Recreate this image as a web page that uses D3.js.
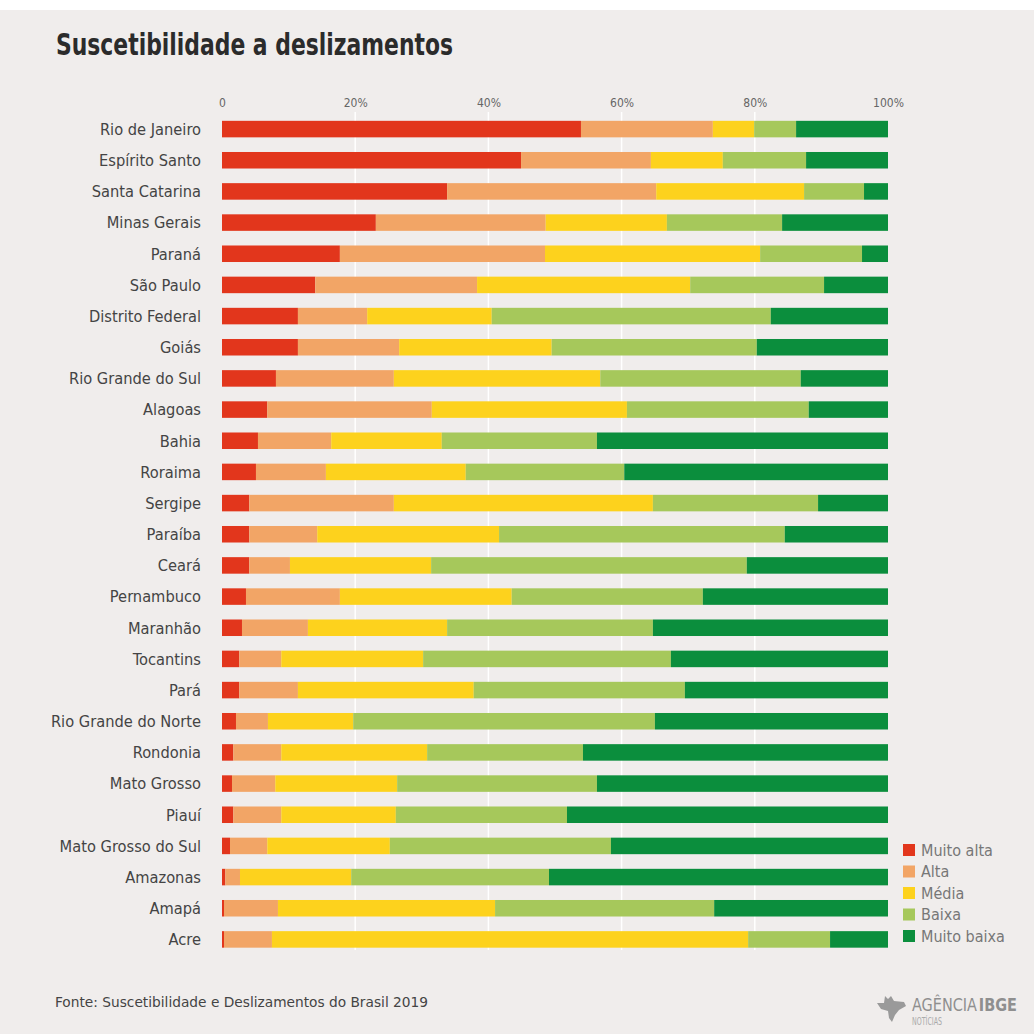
<!DOCTYPE html>
<html><head><meta charset="utf-8">
<script src="https://cdnjs.cloudflare.com/ajax/libs/d3/7.8.5/d3.min.js"></script>
<style>
html,body{margin:0;padding:0;background:#fff;}
svg{display:block;}
text{font-family:"DejaVu Sans Condensed","DejaVu Sans","Roboto",sans-serif;}
</style></head>
<body><svg id="chart" width="1034" height="1034"></svg>
<script>
const states = ["Rio de Janeiro","Espírito Santo","Santa Catarina","Minas Gerais","Paraná","São Paulo","Distrito Federal","Goiás","Rio Grande do Sul","Alagoas","Bahia","Roraima","Sergipe","Paraíba","Ceará","Pernambuco","Maranhão","Tocantins","Pará","Rio Grande do Norte","Rondonia","Mato Grosso","Piauí","Mato Grosso do Sul","Amazonas","Amapá","Acre"];
const categories = ["Muito alta","Alta","Média","Baixa","Muito baixa"];
const muitoAlta = [53.9,44.9,33.8,23.1,17.7,14.0,11.4,11.4,8.1,6.8,5.4,5.1,4.1,4.1,4.1,3.6,3.0,2.6,2.6,2.1,1.7,1.5,1.7,1.2,0.5,0.3,0.3];
const alta      = [19.8,19.5,31.4,25.5,30.8,24.3,10.4,15.2,17.7,24.7,11.0,10.5,21.7,10.2,6.1,14.1,9.9,6.3,8.8,4.8,7.2,6.5,7.2,5.6,2.2,8.1,7.2];
const media     = [6.2,10.8,22.2,18.2,32.3,32.0,18.7,22.9,31.0,29.3,16.6,21.0,38.9,27.3,21.2,25.8,20.9,21.3,26.4,12.8,21.9,18.3,17.2,18.4,16.7,32.6,71.5];
const baixa     = [6.3,12.5,9.0,17.3,15.3,20.1,41.9,30.8,30.1,27.3,23.3,23.8,24.8,42.9,47.4,28.7,30.9,37.2,31.7,45.3,23.4,30.0,25.7,33.2,29.7,32.9,12.3];
const muitoBaixa= [13.8,12.3,3.6,15.9,3.9,9.6,17.6,19.7,13.1,11.9,43.7,39.6,10.5,15.5,21.2,27.8,35.3,32.6,30.5,35.0,45.8,43.7,48.2,41.6,50.9,26.1,8.7];
const tickValues = [0,20,40,60,80,100];
const tickLabels = ["0","20%","40%","60%","80%","100%"];
const colors = ["#e2361c","#f2a566","#fdd21d","#a6c85b","#0b8e3d"];

const series = [muitoAlta,alta,media,baixa,muitoBaixa];
const rows = states.map((s,i)=>{const o={state:s}; categories.forEach((c,j)=>o[c]=series[j][i]); return o;});
const stacked = d3.stack().keys(categories)(rows);

const svg = d3.select("#chart");
svg.append("rect").attr("x",0).attr("y",0).attr("width",1034).attr("height",1034).attr("fill","#fff");
svg.append("rect").attr("x",0).attr("y",10).attr("width",1034).attr("height",1024).attr("fill","#f0edec");

const x = d3.scaleLinear().domain([0,100]).range([222,888]);
const y = d3.scaleBand().domain(states).range([113.5,955]).paddingInner(0.47).paddingOuter(0.235);

svg.append("text").attr("x",56).attr("y",55).attr("font-size",31).attr("font-weight","bold").attr("fill","#2b2b2b")
  .attr("textLength",397).attr("lengthAdjust","spacingAndGlyphs").text("Suscetibilidade a deslizamentos");

// gridlines
svg.append("g").selectAll("line").data(tickValues.slice(1,5)).join("line")
  .attr("x1",d=>x(d)).attr("x2",d=>x(d)).attr("y1",112).attr("y2",950)
  .attr("stroke","#ffffff").attr("stroke-width",1.5);

// top axis
const axis = d3.axisTop(x).tickValues(tickValues).tickFormat((d,i)=>tickLabels[i]).tickSize(0).tickPadding(0);
const ag = svg.append("g").attr("transform","translate(0,107)").call(axis);
ag.select(".domain").remove();
ag.selectAll("text").attr("font-size",12).attr("fill","#666").attr("font-family","'DejaVu Sans Condensed',sans-serif");

// bars
svg.append("g").selectAll("g").data(stacked).join("g").attr("fill",(d,i)=>colors[i])
  .selectAll("rect").data(d=>d).join("rect")
  .attr("x",d=>x(d[0])).attr("width",d=>x(d[1])-x(d[0]))
  .attr("y",d=>y(d.data.state)).attr("height",y.bandwidth());

// state labels
svg.append("g").selectAll("text").data(states).join("text")
  .attr("x",201).attr("y",d=>y(d)+y.bandwidth()/2).attr("dy","0.36em")
  .attr("text-anchor","end").attr("font-size",16.3).attr("fill","#444").text(d=>d);

// legend
const lg = svg.append("g").selectAll("g").data(categories).join("g")
  .attr("transform",(d,i)=>`translate(903,${844+i*21.5})`);
lg.append("rect").attr("width",12).attr("height",12).attr("fill",(d,i)=>colors[i]);
lg.append("text").attr("x",18).attr("y",6).attr("dy","0.36em").attr("font-size",16).attr("fill","#777").text(d=>d);

// footer
svg.append("text").attr("x",55).attr("y",1007).attr("font-size",13.5).attr("fill","#444")
  .attr("textLength",373).attr("lengthAdjust","spacingAndGlyphs").text("Fonte: Suscetibilidade e Deslizamentos do Brasil 2019");
const logo = svg.append("g").attr("transform","translate(877,996)");
logo.append("path").attr("d","M0,7 L7,7 L8,0 L11,3 L14,0 L17,5 L27,6 L29,10 L22,14 L18,19 L15,26 L12,22 L11,15 L4,13 Z").attr("fill","#9a9a9a");
const t1 = logo.append("text").attr("x",35).attr("y",15).attr("font-size",17).attr("fill","#8f8f8f")
  .attr("textLength",105).attr("lengthAdjust","spacingAndGlyphs");
t1.append("tspan").text("AGÊNCIA");
t1.append("tspan").attr("font-weight","bold").attr("dx",2).text("IBGE");
logo.append("text").attr("x",35).attr("y",29).attr("font-size",10).attr("fill","#aaa")
  .attr("textLength",30).attr("lengthAdjust","spacingAndGlyphs").text("NOTÍCIAS");
</script></body></html>
